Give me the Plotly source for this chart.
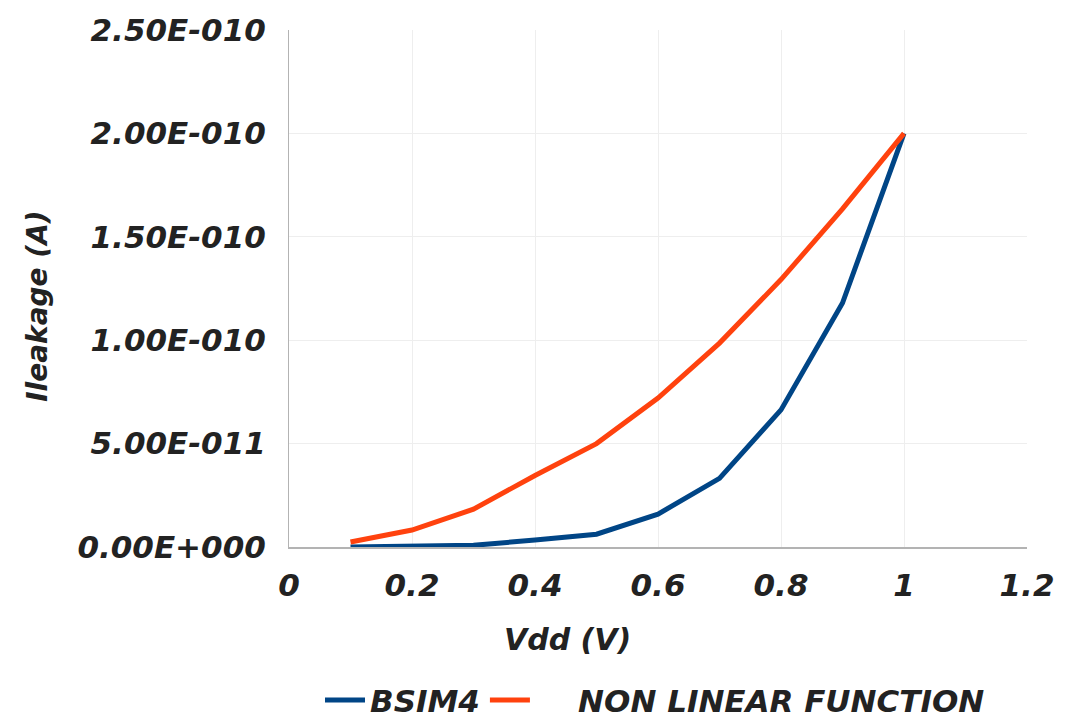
import plotly.graph_objects as go

# Supply voltage sweep (V)
vdd = [0.1, 0.2, 0.3, 0.4, 0.5, 0.6, 0.7, 0.8, 0.9, 1.0]

# Leakage current (A) for each model
bsim4 = [5e-14, 2e-13, 8e-13, 3.4e-12, 6.2e-12, 1.59e-11, 3.32e-11, 6.63e-11, 1.18e-10, 2.0e-10]
non_linear = [2.4e-12, 8.2e-12, 1.83e-11, 3.46e-11, 5.0e-11, 7.2e-11, 9.86e-11, 1.293e-10, 1.635e-10, 2.0e-10]

# Axis ticks
x_ticks = [0, 0.2, 0.4, 0.6, 0.8, 1.0, 1.2]
x_tick_labels = ["0", "0.2", "0.4", "0.6", "0.8", "1", "1.2"]
y_ticks = [0, 5e-11, 1e-10, 1.5e-10, 2e-10, 2.5e-10]
y_tick_labels = ["0.00E+000", "5.00E-011", "1.00E-010", "1.50E-010", "2.00E-010", "2.50E-010"]

FONT = "DejaVu Sans"
TXT = "#222222"


def bold_it(size):
    return dict(family=FONT, size=size, color=TXT, weight="bold", style="italic")


fig = go.Figure()
fig.add_trace(go.Scatter(x=vdd, y=bsim4, mode="lines", name="BSIM4",
                         line=dict(color="#004586", width=5)))
fig.add_trace(go.Scatter(x=vdd, y=non_linear, mode="lines",
                         name="\u00a0\u00a0\u00a0\u00a0NON LINEAR FUNCTION",
                         line=dict(color="#ff420e", width=5)))

fig.update_layout(
    width=1072, height=722,
    margin=dict(l=289, r=45, t=26, b=175),
    paper_bgcolor="white", plot_bgcolor="white",
    showlegend=True,
    legend=dict(orientation="h", x=320 / 1072, xanchor="left", xref="container",
                y=0.03, yanchor="middle", yref="container",
                font=bold_it(31), itemwidth=40, tracegroupgap=0),
    xaxis=dict(range=[0, 1.2], tickvals=x_ticks, ticktext=x_tick_labels,
               tickfont=bold_it(31), showgrid=True, gridcolor="#eeeeee", gridwidth=1,
               showline=True, linecolor="#b3b3b3", linewidth=2, zeroline=False,
               ticks="", ticklabelstandoff=10),
    yaxis=dict(range=[0, 2.5e-10], tickvals=y_ticks, ticktext=y_tick_labels,
               tickfont=bold_it(31), showgrid=True, gridcolor="#eeeeee", gridwidth=1,
               showline=True, linecolor="#b3b3b3", linewidth=1, zeroline=False,
               ticks="", ticklabelstandoff=16),
    annotations=[
        dict(text="Vdd (V)", xref="paper", yref="paper",
             x=(567 - 289) / (1027 - 289), y=(547 - 640) / (547 - 26),
             xanchor="center", yanchor="middle", showarrow=False, font=bold_it(30)),
        dict(text="Ileakage (A)", xref="paper", yref="paper",
             x=(38 - 289) / (1027 - 289), y=(547 - 305) / (547 - 26),
             xanchor="center", yanchor="middle", textangle=-90, showarrow=False,
             font=bold_it(28)),
    ],
)

fig.write_html("out.html")
